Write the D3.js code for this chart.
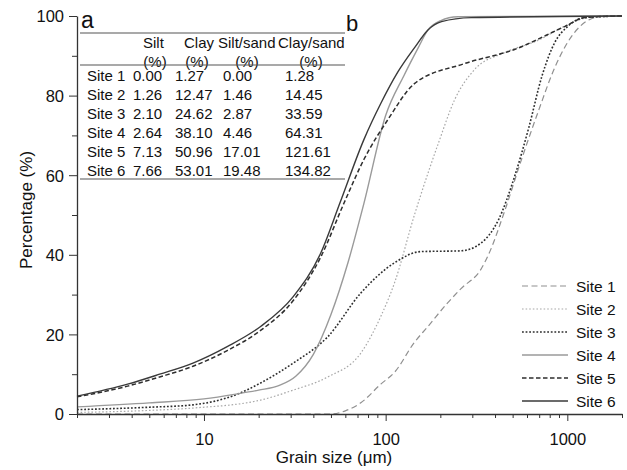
<!DOCTYPE html>
<html>
<head>
<meta charset="utf-8">
<script src="https://cdn.jsdelivr.net/npm/d3@7"></script>
<style>
  body { margin: 0; background: #fff; }
  svg { font-family: "Liberation Sans", Arial, sans-serif; }
</style>
</head>
<body>
<div id="chart"></div>
<script>
// grain size (um) sample points and cumulative percentages
var site1Size = [2, 50, 60, 73, 94, 112, 144, 171, 220, 260, 336, 368, 452, 560, 698, 852, 1060, 1312, 1600, 2000];
var site1Pct  = [0, 0, 0.8, 2.8, 7.5, 10.5, 18, 22, 28, 31.5, 36.5, 40, 51, 64, 76.5, 87, 95, 99, 100, 100];

var site2Size = [2, 5, 8.7, 20.5, 31, 48, 73, 94, 112, 144, 156, 195, 240, 308, 452, 698, 960, 1312, 2000];
var site2Pct  = [0.4, 0.9, 1.5, 3.5, 6, 9.3, 15.3, 24.5, 33, 50, 55, 68, 79, 86.5, 90.8, 94, 97.4, 99.6, 100];

var site3Size = [2, 5, 8.7, 15.3, 20.5, 31, 48, 73, 112, 156, 260, 336, 418, 512, 614, 724, 852, 1006, 1250, 2000];
var site3Pct  = [1.1, 1.7, 2.3, 5, 7.8, 12.8, 19.4, 30.4, 38, 40.8, 41, 43, 48.8, 59.6, 72, 84.8, 93.3, 97.4, 99.6, 100];

var site4Size = [2, 5, 10, 15, 20, 26, 32, 40, 50, 62, 76, 100, 126, 151, 171, 200, 250, 2000];
var site4Pct  = [1.8, 2.8, 3.8, 5, 6, 7.2, 9.5, 15, 25, 38, 53, 75, 85, 92, 96.5, 98.8, 99.8, 100];

var site5Size = [2, 3.8, 5.7, 8.7, 13.5, 20.5, 31, 44, 59, 76, 103, 144, 270, 512, 972, 1250, 2000];
var site5Pct  = [4.3, 7, 9.3, 12, 16, 21, 28.5, 39.5, 53, 64, 74, 83, 88, 91.6, 97.4, 99.6, 100];

var site6Size = [2, 3.8, 5.7, 8.7, 13.5, 20.5, 31, 44, 56, 76, 94, 117, 144, 171, 203, 296, 2000];
var site6Pct  = [4.5, 7.5, 10, 12.8, 17, 22, 29.5, 40.5, 53, 69, 78, 86, 92, 96.5, 98.6, 99.6, 100];

var siteNames = ["Site 1", "Site 2", "Site 3", "Site 4", "Site 5", "Site 6"];

// inset table (a)
var tableHeads = ["Silt", "Clay", "Silt/sand", "Clay/sand"];
var siltPct = ["0.00", "1.26", "2.10", "2.64", "7.13", "7.66"];
var clayPct = ["1.27", "12.47", "24.62", "38.10", "50.96", "53.01"];
var siltSand = ["0.00", "1.46", "2.87", "4.46", "17.01", "19.48"];
var claySand = ["1.28", "14.45", "33.59", "64.31", "121.61", "134.82"];

var xTicks = [10, 100, 1000];
var yTicks = [0, 20, 40, 60, 80, 100];
var yMinor = [10, 30, 50, 70, 90];

var width = 627, height = 470;
var margin = {left: 77, right: 5, top: 16, bottom: 56};

var svg = d3.select("#chart").append("svg")
    .attr("width", width)
    .attr("height", height);

var x = d3.scaleLog().domain([2, 2000]).range([margin.left, width - margin.right]);
var y = d3.scaleLinear().domain([0, 100]).range([height - margin.bottom, margin.top]);

var series = [
  {name: siteNames[0], size: site1Size, pct: site1Pct, color: "#909090", dash: "6,3.5", w: 1.2},
  {name: siteNames[1], size: site2Size, pct: site2Pct, color: "#a8a8a8", dash: "1.6,2", w: 1.2},
  {name: siteNames[2], size: site3Size, pct: site3Pct, color: "#2e2e2e", dash: "1.8,1.8", w: 1.6},
  {name: siteNames[3], size: site4Size, pct: site4Pct, color: "#9a9a9a", dash: null, w: 1.4},
  {name: siteNames[4], size: site5Size, pct: site5Pct, color: "#2e2e2e", dash: "4.5,2.5", w: 1.5},
  {name: siteNames[5], size: site6Size, pct: site6Pct, color: "#3a3a3a", dash: null, w: 1.4}
];

var line = d3.line()
    .x(function(d) { return x(d[0]); })
    .y(function(d) { return y(d[1]); })
    .curve(d3.curveMonotoneX);

series.forEach(function(s) {
  var pts = s.size.map(function(v, i) { return [v, s.pct[i]]; });
  svg.append("path")
      .attr("d", line(pts))
      .attr("fill", "none")
      .attr("stroke", s.color)
      .attr("stroke-width", s.w)
      .attr("stroke-dasharray", s.dash);
});

// axes
var minorX = [];
[1, 10, 100, 1000].forEach(function(dec) {
  for (var k = 2; k <= 9; k++) {
    var v = dec * k;
    if (v >= 2 && v <= 2000) minorX.push(v);
  }
});

var axisColor = "#333";
svg.append("g")
    .attr("transform", "translate(0," + y(0) + ")")
    .call(d3.axisBottom(x).tickValues(xTicks).tickFormat(d3.format("d")).tickSize(7).tickSizeOuter(0).tickPadding(12));
svg.append("g")
    .attr("transform", "translate(0," + y(0) + ")")
    .call(d3.axisBottom(x).tickValues(minorX).tickFormat("").tickSize(4).tickSizeOuter(0))
    .select(".domain").remove();

var yAxisG = svg.append("g")
    .attr("transform", "translate(" + margin.left + ",0)")
    .call(d3.axisLeft(y).tickValues(yTicks).tickSize(8).tickSizeOuter(0).tickPadding(5));
svg.append("g")
    .attr("transform", "translate(" + margin.left + ",0)")
    .call(d3.axisLeft(y).tickValues(yMinor).tickFormat("").tickSize(5).tickSizeOuter(0))
    .select(".domain").remove();

svg.selectAll(".domain").attr("stroke", axisColor).attr("stroke-width", 1.3);
svg.selectAll(".tick line").attr("stroke", axisColor).attr("stroke-width", 1);
svg.selectAll(".tick text")
    .attr("font-family", "Liberation Sans, Arial, sans-serif")
    .attr("font-size", 16.5)
    .attr("fill", "#111");
yAxisG.selectAll(".tick text").attr("dy", "0.36em");

svg.append("text")
    .attr("x", 334)
    .attr("y", 463)
    .attr("text-anchor", "middle")
    .attr("font-size", 17)
    .attr("fill", "#111")
    .text("Grain size (μm)");

svg.append("text")
    .attr("transform", "translate(32,210) rotate(-90)")
    .attr("text-anchor", "middle")
    .attr("font-size", 17)
    .attr("fill", "#111")
    .text("Percentage (%)");

// legend
var legend = svg.append("g");
series.forEach(function(s, i) {
  var ly = 286 + i * 23;
  legend.append("line")
      .attr("x1", 522).attr("x2", 568)
      .attr("y1", ly).attr("y2", ly)
      .attr("stroke", s.color)
      .attr("stroke-width", s.w)
      .attr("stroke-dasharray", s.dash);
  legend.append("text")
      .attr("x", 576).attr("y", ly)
      .attr("dy", "0.36em")
      .attr("font-size", 15.5)
      .attr("fill", "#111")
      .text(s.name);
});

// panel labels
svg.append("text").attr("x", 81).attr("y", 28).attr("font-size", 23).attr("fill", "#111").text("a");
svg.append("text").attr("x", 346).attr("y", 31).attr("font-size", 22).attr("fill", "#111").text("b");

// table
svg.append("clipPath").attr("id", "tclip")
  .append("rect").attr("x", 78).attr("y", 30).attr("width", 267).attr("height", 160);
var tbl = svg.append("g").attr("clip-path", "url(#tclip)")
    .attr("font-size", 15).attr("fill", "#111");

var colX = [133, 175, 223, 285];
var headX = [143, 184, 218, 278];
var unitX = [155, 197, 247, 311];
tableHeads.forEach(function(h, j) {
  tbl.append("text").attr("x", headX[j]).attr("y", 48).text(h);
  tbl.append("text").attr("x", unitX[j]).attr("y", 67).attr("text-anchor", "middle").text("(%)");
});
var cols = [siltPct, clayPct, siltSand, claySand];
siteNames.forEach(function(name, i) {
  var ry = 81 + i * 19;
  tbl.append("text").attr("x", 87).attr("y", ry).text(name);
  cols.forEach(function(c, j) {
    tbl.append("text").attr("x", colX[j]).attr("y", ry).text(c[i]);
  });
});
[33, 65, 179].forEach(function(ly) {
  svg.append("line")
      .attr("x1", 80).attr("x2", 345)
      .attr("y1", ly).attr("y2", ly)
      .attr("stroke", "#555").attr("stroke-width", 1.2);
});
</script>
</body>
</html>
